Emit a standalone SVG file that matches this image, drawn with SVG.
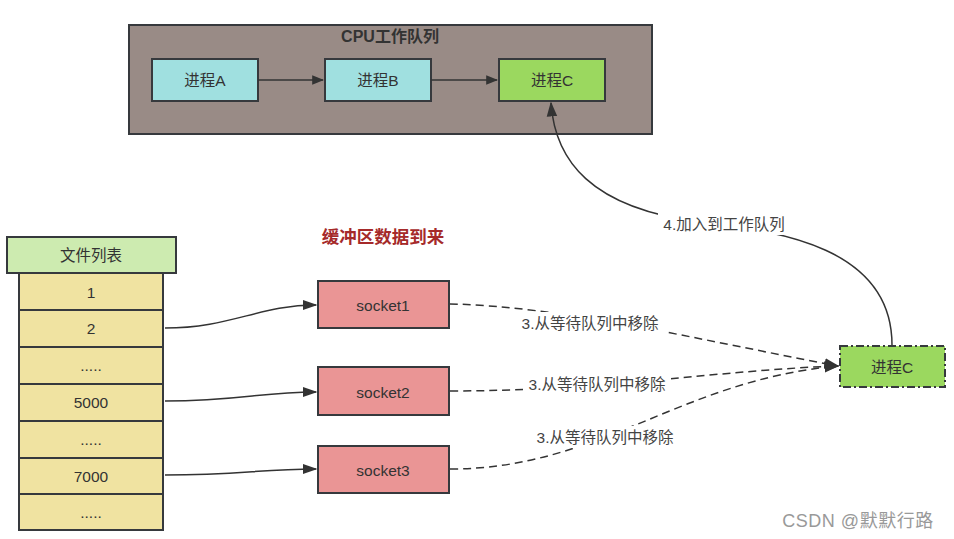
<svg xmlns="http://www.w3.org/2000/svg" width="954" height="539" viewBox="0 0 954 539">
<defs>
<style>
text{font-family:"Liberation Sans","Noto Sans CJK SC",sans-serif;font-size:15.5px;fill:#333;text-anchor:middle;dominant-baseline:central}
.box{stroke:#36393d;stroke-width:2}
.edge{fill:none;stroke:#333;stroke-width:1.5}
.dash{stroke-dasharray:8 5}
.lbl{fill:#444;font-size:15.5px}
.bold{font-weight:bold}
</style>
<marker id="ah" viewBox="0 0 10 10" refX="9" refY="5" markerWidth="12" markerHeight="12" markerUnits="userSpaceOnUse" orient="auto">
<path d="M0,1 L10,5 L0,9 Z" fill="#333"/>
</marker>
<marker id="ah2" viewBox="0 0 10 10" refX="9" refY="5" markerWidth="15" markerHeight="15" markerUnits="userSpaceOnUse" orient="auto">
<path d="M0,1.5 L10,5 L0,8.5 Z" fill="#333"/>
</marker>
</defs>
<rect width="954" height="539" fill="#fff"/>

<g id="cpu-queue">
<rect class="box" x="129" y="25" width="523" height="109" fill="#998b86"/>
<text x="390" y="36" class="bold" style="font-size:16px">CPU工作队列</text>
</g>
<g id="procA"><rect class="box" x="152" y="59" width="106" height="42" fill="#a0e0e0"/><text x="205" y="80">进程A</text></g>
<g id="procB"><rect class="box" x="325" y="59" width="106" height="42" fill="#a0e0e0"/><text x="378" y="80">进程B</text></g>
<g id="procC-top"><rect class="box" x="499" y="59" width="106" height="42" fill="#9bd85f"/><text x="552" y="80">进程C</text></g>

<g id="file-list-header"><rect class="box" x="7" y="237" width="169" height="36" fill="#cdebb0"/><text x="91" y="255">文件列表</text></g>
<g id="file-list">
<rect class="box" x="19" y="273" width="144" height="37" fill="#f0e3a1"/><text x="91" y="292">1</text>
<rect class="box" x="19" y="310" width="144" height="37" fill="#f0e3a1"/><text x="91" y="328">2</text>
<rect class="box" x="19" y="347" width="144" height="37" fill="#f0e3a1"/><text x="91" y="365">.....</text>
<rect class="box" x="19" y="384" width="144" height="37" fill="#f0e3a1"/><text x="91" y="402">5000</text>
<rect class="box" x="19" y="421" width="144" height="37" fill="#f0e3a1"/><text x="91" y="439">.....</text>
<rect class="box" x="19" y="458" width="144" height="36" fill="#f0e3a1"/><text x="91" y="476">7000</text>
<rect class="box" x="19" y="494" width="144" height="36" fill="#f0e3a1"/><text x="91" y="512">.....</text>
</g>

<g id="buffer-title"><text x="383" y="237" class="bold" style="fill:#a52a2a;font-size:17.5px">缓冲区数据到来</text></g>

<g id="socket1"><rect class="box" x="318" y="281" width="131" height="47" fill="#ea9595"/><text x="383" y="305">socket1</text></g>
<g id="socket2"><rect class="box" x="318" y="367" width="131" height="48" fill="#ea9595"/><text x="383" y="392">socket2</text></g>
<g id="socket3"><rect class="box" x="318" y="446" width="131" height="47" fill="#ea9595"/><text x="383" y="470">socket3</text></g>

<g id="procC-wait"><rect x="840" y="346" width="105" height="41" fill="#9bd85f" stroke="#36393d" stroke-width="2" stroke-dasharray="8 3 2 3"/><text x="892" y="367">进程C</text></g>

<g id="connectors">
<path class="edge" d="M258,80 L323,80" marker-end="url(#ah)"/>
<path class="edge" d="M431,80 L497,80" marker-end="url(#ah)"/>
<path class="edge" d="M165,328 C230,328 260,305 316,305" marker-end="url(#ah2)"/>
<path class="edge" d="M165,401 C240,401 260,392 316,392" marker-end="url(#ah2)"/>
<path class="edge" d="M165,475 C240,475 260,469 316,469" marker-end="url(#ah2)"/>
<path class="edge dash" d="M450,304 C560,306 700,340 838,366" marker-end="url(#ah2)"/>
<path class="edge dash" d="M450,391 C600,391 720,370 838,366" marker-end="url(#ah2)"/>
<path class="edge dash" d="M450,469 C600,469 680,380 838,366" marker-end="url(#ah2)"/>
<path class="edge" d="M892,345 C892,240 760,230 700,222 C590,208 555,160 551,103" marker-end="url(#ah2)"/>
<rect x="516" y="312" width="148" height="22" fill="#fff"/>
<text x="590" y="323" class="lbl">3.从等待队列中移除</text>
<rect x="523" y="373" width="148" height="22" fill="#fff"/>
<text x="597" y="384" class="lbl">3.从等待队列中移除</text>
<rect x="531" y="426" width="148" height="22" fill="#fff"/>
<text x="605" y="437" class="lbl">3.从等待队列中移除</text>
<rect x="658" y="213" width="132" height="22" fill="#fff"/>
<text x="724" y="224" class="lbl">4.加入到工作队列</text>
</g>

<text x="858" y="521" style="fill:#999;font-size:18px;letter-spacing:0.5px">CSDN @默默行路</text>
</svg>
